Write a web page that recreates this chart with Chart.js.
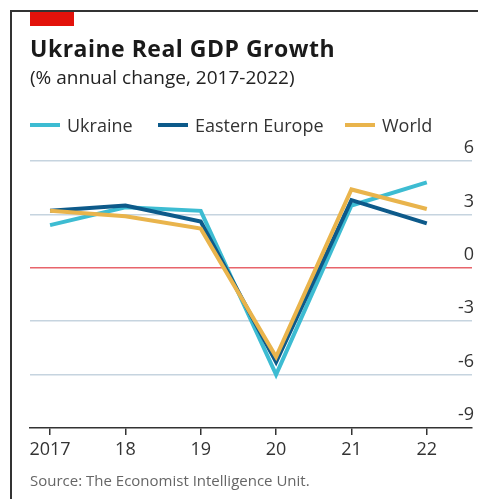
<!DOCTYPE html>
<html>
<head>
<meta charset="utf-8">
<script src="https://cdn.jsdelivr.net/npm/chart.js@4.4.1/dist/chart.umd.min.js"></script>
<style>
  html, body { margin: 0; padding: 0; background: #fff; }
  #wrap { position: relative; width: 478px; height: 499px; overflow: hidden; font-family: "Open Sans", sans-serif; color: #1a1a1a; }
  #frame { position: absolute; left: 10px; top: 10px; width: 480px; height: 500px; border-left: 2px solid #333; border-top: 2px solid #333; }
  #redbar { position: absolute; left: 30px; top: 12px; width: 44px; height: 14px; background: #e3120b; }
  #title { position: absolute; left: 30px; top: 32px; font-size: 23px; font-weight: 700; letter-spacing: 0.5px; }
  #subtitle { position: absolute; left: 30px; top: 64px; font-size: 19px; color: #222; }
  #legend { position: absolute; left: 30px; top: 113px; font-size: 18px; color: #333; }
  .item { position: absolute; white-space: nowrap; top: 0; }
  .swatch { display: inline-block; width: 30px; height: 4px; vertical-align: middle; margin-right: 7px; position: relative; top: -2px; }
  #source { position: absolute; left: 30px; top: 470px; font-size: 15px; color: #666; }
  canvas { position: absolute; left: 0; top: 0; }
</style>
</head>
<body>
<div id="wrap">
  <canvas id="gdpChart" width="478" height="499"></canvas>
  <div id="frame"></div>
  <div id="redbar"></div>
  <div id="title">Ukraine Real GDP Growth</div>
  <div id="subtitle">(% annual change, 2017-2022)</div>
  <div id="legend"></div>
  <div id="source">Source: The Economist Intelligence Unit.</div>
</div>
<script>
// data
var years = [2017, 2018, 2019, 2020, 2021, 2022];
var ukraine = [2.4, 3.4, 3.2, -6.0, 3.5, 4.8];
var easternEurope = [3.2, 3.5, 2.6, -5.3, 3.8, 2.5];
var world = [3.2, 2.9, 2.2, -5.0, 4.4, 3.3];
var yTicks = [-9, -6, -3, 0, 3, 6];

var seriesNames = ['Ukraine', 'Eastern Europe', 'World'];
var seriesColors = ['#3dbcd2', '#0d5a8a', '#e9b44c'];
var legendLeft = [0, 128, 315];

function toPoints(values) {
    return years.map(function(y, i) { return { x: y, y: values[i] }; });
}

// html legend
var legend = document.getElementById('legend');
seriesNames.forEach(function(name, i) {
    var item = document.createElement('div');
    item.className = 'item';
    item.style.left = legendLeft[i] + 'px';
    item.innerHTML = '<span class="swatch" style="background:' + seriesColors[i] + '"></span>' + name;
    legend.appendChild(item);
});

var ctx = document.getElementById('gdpChart').getContext('2d');
var gdpChart = new Chart(ctx, {
    type: 'line',
    data: {
        datasets: [{
            label: 'Ukraine',
            data: toPoints(ukraine),
            borderColor: seriesColors[0],
            order: 3
        }, {
            label: 'Eastern Europe',
            data: toPoints(easternEurope),
            borderColor: seriesColors[1],
            order: 2
        }, {
            label: 'World',
            data: toPoints(world),
            borderColor: seriesColors[2],
            order: 1
        }]
    },
    options: {
        responsive: false,
        animation: false,
        layout: {
            padding: { left: 30, top: 161, right: 6, bottom: 31 }
        },
        elements: {
            line: { borderWidth: 4, tension: 0, borderJoinStyle: 'miter' },
            point: { radius: 0 }
        },
        plugins: {
            legend: { display: false },
            tooltip: { enabled: false }
        },
        scales: {
            x: {
                type: 'linear',
                min: 2016.734,
                max: 2022.6,
                afterBuildTicks: function(scale) {
                    scale.ticks = years.map(function(v) { return { value: v }; });
                },
                afterFit: function(scale) { scale.height = 40; },
                grid: {
                    drawOnChartArea: false,
                    drawTicks: true,
                    tickLength: 7,
                    color: '#333',
                    lineWidth: 1.5
                },
                border: { display: true, color: '#333', width: 1.5 },
                ticks: {
                    padding: 4,
                    maxRotation: 0,
                    color: '#333',
                    font: { family: 'Open Sans', size: 18 },
                    callback: function(v) {
                        return v === 2017 ? '2017' : String(v).slice(2);
                    }
                }
            },
            y: {
                position: 'right',
                min: -9,
                max: 6,
                afterBuildTicks: function(scale) {
                    scale.ticks = yTicks.map(function(v) { return { value: v }; });
                },
                afterFit: function(scale) { scale.width = 0; },
                border: { display: false },
                grid: {
                    drawTicks: false,
                    lineWidth: 1.5,
                    color: function(c) {
                        if (c.tick.value === 0) return '#e8646b';
                        if (c.tick.value === -9) return 'rgba(0,0,0,0)';
                        return '#c6d4df';
                    }
                },
                ticks: {
                    mirror: true,
                    padding: 2,
                    labelOffset: -13,
                    color: '#333',
                    font: { family: 'Open Sans', size: 18 }
                }
            }
        }
    }
});
</script>
</body>
</html>
